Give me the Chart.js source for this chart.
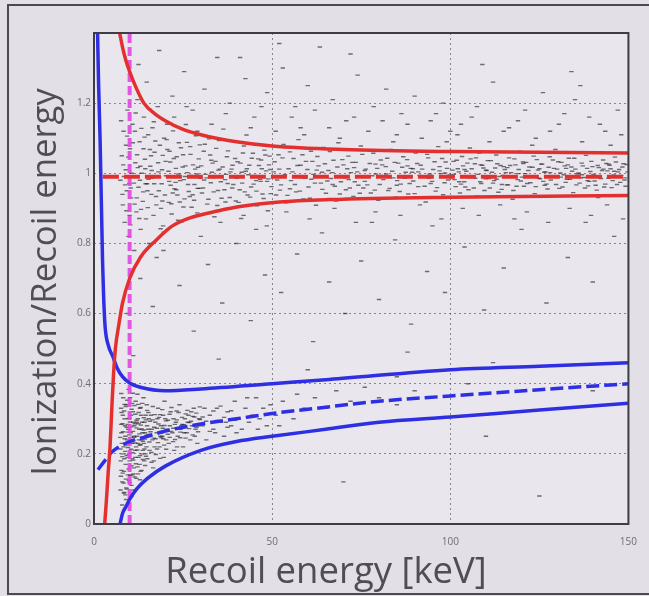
<!DOCTYPE html>
<html><head><meta charset="utf-8">
<script src="https://cdn.jsdelivr.net/npm/chart.js@4.4.0/dist/chart.umd.min.js"></script>
<style>
html,body{margin:0;padding:0;background:#e2dfe6;overflow:hidden}
#c{display:block;filter:blur(0.4px)}
</style>
</head><body>
<canvas id="c" width="649" height="596"></canvas>
<script>
// ---- axis ticks / titles ----
const xTicks = [0, 50, 100, 150];
const yTicks = [0, 0.2, 0.4, 0.6, 0.8, 1, 1.2];
const xTitle = "Recoil energy [keV]";
const yTitle = "Ionization/Recoil energy";

// ---- scatter events ----
const erLow = [[7.4,0.98],[7.8,1.05],[8.1,0.91],[8.3,1.12],[8.6,0.86],[8.9,1.01],[9.2,0.95],[9.4,1.18],[9.7,0.82],[10.1,1.07],[10.4,0.93],[10.8,1.14],[11.0,0.99],[11.3,0.78],[11.6,1.03],[11.9,0.89],[12.2,1.21],[12.5,0.96],[12.8,1.09],[13.1,0.84],[13.4,1.00],[13.7,0.92],[14.0,1.16],[14.3,1.04],[14.6,0.87],[14.9,0.97],[15.2,1.11],[15.5,0.80],[15.8,1.02],[16.1,0.94],[16.4,1.13],[16.7,0.88],[17.0,1.06],[17.3,0.99],[17.6,0.76],[17.9,1.19],[18.2,0.95],[18.5,1.08],[18.8,0.90],[19.1,1.01],[19.4,0.85],[19.7,1.10],[8.0,0.94],[9.0,1.08],[10.0,0.88],[11.5,1.12],[12.0,0.93],[13.0,1.02],[14.5,0.97],[16.0,1.05],[17.5,0.91],[19.0,0.97],[7.6,1.15],[10.6,1.00],[12.9,0.98],[15.0,0.95],[18.0,1.03],[9.9,0.97],[13.9,1.07],[16.9,0.97]];
const erLow2 = [[8.2,1.024],[8.7,0.967],[9.1,0.893],[9.6,1.046],[10.3,0.958],[10.9,1.087],[11.4,0.912],[12.1,1.053],[12.7,0.871],[13.3,1.128],[13.8,0.947],[14.4,1.013],[15.1,0.902],[15.7,1.068],[16.3,0.986],[16.8,1.147],[17.4,0.934],[18.1,1.004],[18.7,0.842],[19.3,1.051],[19.9,0.938],[20.4,1.096],[21.1,0.977],[21.7,0.913],[22.4,1.042],[23.1,0.953],[23.7,0.998],[24.4,1.073],[25.1,0.904],[25.7,1.021],[26.4,0.968],[27.1,1.054],[27.7,0.939],[28.4,1.012],[29.1,0.957],[29.7,1.081],[8.4,0.991],[9.3,1.106],[10.2,0.853],[11.2,0.972],[12.3,1.016],[13.2,0.897],[14.2,1.103],[15.3,0.983],[16.2,1.008],[17.2,1.092],[18.3,0.989],[19.2,0.921],[20.1,1.034],[21.2,1.063],[22.1,0.944],[23.2,1.047],[24.1,0.918],[25.2,0.982],[26.1,1.088],[27.2,0.994],[28.1,0.923],[29.2,1.017],[11.7,1.172],[15.6,1.183],[19.6,0.832],[23.6,0.866],[27.6,1.118]];
const erMid = [[20.2,0.993],[20.6,1.068],[21.0,0.917],[21.4,1.032],[21.8,0.884],[22.2,1.121],[22.6,0.956],[23.0,1.014],[23.4,0.938],[23.8,1.087],[24.2,0.979],[24.6,0.862],[25.0,1.053],[25.4,0.927],[25.8,1.139],[26.2,1.002],[26.6,0.948],[27.0,1.076],[27.4,0.903],[27.8,1.024],[28.2,0.968],[28.6,1.107],[29.0,0.887],[29.4,1.041],[29.8,0.986],[30.3,0.944],[30.8,1.063],[31.3,0.997],[31.8,0.912],[32.3,1.098],[32.8,0.973],[33.3,1.029],[33.8,0.876],[34.3,1.071],[34.8,0.951],[35.3,1.012],[35.8,0.929],[36.3,1.126],[36.8,0.982],[37.3,1.047],[37.8,0.898],[38.3,1.004],[38.8,0.958],[39.3,1.092],[39.8,0.921],[40.3,1.033],[40.8,0.989],[41.3,0.871],[41.8,1.058],[42.3,0.947],[42.8,1.109],[43.3,0.996],[43.8,0.932],[44.3,1.043],[44.8,0.969],[45.3,1.081],[45.8,0.907],[46.3,1.022],[46.8,0.977],[47.3,0.941],[47.8,1.066],[48.3,1.007],[48.8,0.893],[49.3,1.049],[49.8,0.962],[20.9,1.006],[22.9,0.974],[24.9,1.018],[26.9,0.934],[28.9,0.998],[30.9,0.981],[32.9,1.037],[34.9,1.009],[36.9,0.918],[38.9,1.023],[40.9,0.953],[42.9,1.013],[44.9,0.992],[46.9,1.038],[48.9,0.984],[21.5,0.966],[25.5,0.991],[29.5,0.957],[33.5,0.988],[37.5,0.971],[41.5,1.003],[45.5,0.979],[49.5,1.011]];
const erMid2 = [[30.1,1.021],[30.6,0.958],[31.1,1.083],[31.6,0.987],[32.1,0.926],[32.6,1.052],[33.1,1.003],[33.6,0.947],[34.1,1.034],[34.6,0.908],[35.1,1.093],[35.6,0.976],[36.1,1.018],[36.6,0.953],[37.1,0.997],[37.6,1.064],[38.1,0.931],[38.6,1.012],[39.1,0.968],[39.6,1.042],[40.1,0.986],[40.6,0.917],[41.1,1.029],[41.6,0.972],[42.1,1.078],[42.6,1.006],[43.1,0.938],[43.6,1.023],[44.1,0.961],[44.6,1.057],[45.1,0.994],[45.6,0.949],[46.1,1.041],[46.6,0.983],[47.1,1.013],[47.6,0.928],[48.1,1.052],[48.6,0.977],[49.1,1.024],[49.6,0.942],[50.7,1.033],[51.4,0.981],[52.2,0.952],[52.9,1.044],[53.6,0.996],[54.3,0.937],[55.0,1.061],[55.7,1.004],[56.4,0.968],[57.1,1.022],[57.8,0.949],[58.5,1.053],[59.2,0.986],[59.9,1.011],[60.6,0.929],[61.3,1.034],[62.0,0.972],[62.7,1.048],[63.4,0.991],[64.1,0.954],[64.8,1.027],[65.5,0.978],[66.2,1.062],[66.9,1.002],[67.6,0.963],[68.3,1.018],[69.0,0.941],[69.7,1.039],[70.4,0.987],[71.1,1.013],[71.8,0.958],[72.5,1.031],[73.2,0.976],[73.9,1.004],[74.6,0.943],[75.3,1.054],[76.0,1.008],[76.7,0.967],[77.4,1.028],[78.1,0.993],[78.8,0.952],[79.5,1.014]];
const erHigh = [[50.4,1.004],[51.1,0.938],[51.8,1.053],[52.5,0.967],[53.2,1.082],[53.9,0.916],[54.6,1.013],[55.3,0.979],[56.0,1.042],[56.7,0.947],[57.4,1.096],[58.1,0.988],[58.8,0.927],[59.5,1.034],[60.2,0.961],[60.9,1.063],[61.6,0.997],[62.3,0.909],[63.0,1.021],[63.7,0.972],[64.4,1.074],[65.1,0.943],[65.8,1.008],[66.5,0.985],[67.2,1.037],[67.9,0.921],[68.6,1.087],[69.3,0.976],[70.0,1.024],[70.7,0.953],[71.4,1.049],[72.1,1.002],[72.8,0.934],[73.5,1.031],[74.2,0.966],[74.9,1.078],[75.6,0.958],[76.3,1.012],[77.0,0.991],[77.7,0.944],[78.4,1.057],[79.1,0.998],[79.8,0.923],[80.5,1.038],[81.2,0.982],[81.9,1.019],[82.6,0.951],[83.3,1.068],[84.0,0.987],[84.7,0.932],[85.4,1.029],[86.1,0.969],[86.8,1.047],[87.5,1.003],[88.2,0.941],[88.9,1.014],[89.6,0.978],[90.3,1.058],[91.0,0.962],[91.7,1.023],[92.4,0.993],[93.1,0.918],[93.8,1.044],[94.5,0.971],[95.2,1.011],[95.9,0.949],[96.6,1.076],[97.3,0.999],[98.0,0.939],[98.7,1.032],[99.4,0.981],[52.0,1.012],[55.0,0.956],[58.0,1.023],[61.0,0.983],[64.0,1.003],[67.0,0.968],[70.0,0.989],[73.0,1.016],[76.0,0.977],[79.0,1.026],[82.0,0.998],[85.0,0.966],[88.0,1.021],[91.0,1.004],[94.0,0.986],[97.0,1.019],[53.5,0.992],[62.5,1.009],[71.5,0.982],[80.5,0.994],[89.5,1.013],[98.5,1.001]];
const erHigh2 = [[80.2,0.968],[80.9,1.024],[81.6,0.992],[82.3,1.043],[83.0,0.957],[83.7,1.006],[84.4,1.031],[85.1,0.979],[85.8,0.948],[86.5,1.017],[87.2,0.986],[87.9,1.039],[88.6,0.971],[89.3,1.003],[90.0,0.942],[90.7,1.028],[91.4,0.994],[92.1,1.012],[92.8,0.963],[93.5,1.054],[94.2,0.998],[94.9,0.977],[95.6,1.033],[96.3,0.959],[97.0,1.007],[97.7,1.042],[98.4,0.973],[99.1,1.014],[99.8,0.995],[100.6,1.009],[101.2,0.982],[101.8,1.037],[102.4,1.004],[103.0,0.969],[103.6,1.021],[104.2,0.961],[104.8,1.029],[105.4,0.987],[106.0,1.013],[106.6,0.958],[107.2,1.044],[107.8,0.997],[108.4,0.976],[109.0,1.023],[109.6,0.951],[110.2,1.008],[110.8,0.985],[111.4,1.036],[112.0,0.972],[112.6,1.015],[113.2,1.027],[113.8,0.991],[114.4,0.954],[115.0,1.019],[115.6,1.002],[116.2,0.967],[116.8,1.022],[117.4,0.988],[118.0,1.041],[118.6,0.963],[119.2,1.011],[119.8,0.978],[120.4,1.032],[121.0,0.999],[121.6,0.971],[122.2,1.018],[122.8,0.993],[123.4,1.049],[124.0,0.962],[124.6,1.009],[125.2,0.984],[125.8,1.026],[126.4,1.003],[127.0,0.969],[127.6,1.017],[128.2,0.981],[128.8,1.038],[129.4,0.989],[130.0,1.012],[130.6,0.957],[131.2,1.031],[131.8,0.996],[132.4,0.974],[133.0,1.024],[133.6,0.983],[134.2,1.006],[134.8,1.043],[135.4,0.967],[136.0,1.001],[136.6,0.987],[137.2,1.021],[137.8,0.958],[138.4,1.014],[139.0,0.977],[139.6,1.034],[140.2,0.997],[140.8,0.966],[141.4,1.022],[142.0,0.992],[142.6,1.008],[143.2,0.961],[143.8,1.028],[144.4,0.986],[145.0,1.013],[145.6,0.979],[146.2,1.046],[146.8,0.968],[147.4,1.011],[148.0,0.994],[148.6,1.027],[149.2,0.963],[149.8,1.004]];
const erTop = [[100.3,0.987],[100.9,1.034],[101.5,0.962],[102.1,1.013],[102.7,0.944],[103.3,1.048],[103.9,0.976],[104.5,1.006],[105.1,0.953],[105.7,1.041],[106.3,0.992],[106.9,1.027],[107.5,0.935],[108.1,1.058],[108.7,0.971],[109.3,1.015],[109.9,0.984],[110.5,1.036],[111.1,0.958],[111.7,1.003],[112.3,0.979],[112.9,1.052],[113.5,0.946],[114.1,1.022],[114.7,0.994],[115.3,1.011],[115.9,0.967],[116.5,1.044],[117.1,1.002],[117.7,0.951],[118.3,1.024],[118.9,0.982],[119.5,1.063],[120.1,0.989],[120.7,0.963],[121.3,1.031],[121.9,1.008],[122.5,0.973],[123.1,1.017],[123.7,0.942],[124.3,1.039],[124.9,0.986],[125.5,1.026],[126.1,0.977],[126.7,1.004],[127.3,0.955],[127.9,1.047],[128.5,0.991],[129.1,1.014],[129.7,0.968],[130.3,1.033],[130.9,1.001],[131.5,0.961],[132.1,1.021],[132.7,0.983],[133.3,1.043],[133.9,0.993],[134.5,0.945],[135.1,1.012],[135.7,0.998],[136.3,0.972],[136.9,1.029],[137.5,0.988],[138.1,1.051],[138.7,0.964],[139.3,1.005],[139.9,1.019],[140.5,0.978],[141.1,0.952],[141.7,1.016],[142.3,0.985],[142.9,1.038],[143.5,0.969],[144.1,1.007],[144.7,1.023],[145.3,0.959],[145.9,0.995],[146.5,1.032],[147.1,1.004],[147.7,0.974],[148.3,1.018],[148.9,0.981],[149.5,1.025],[101.0,0.997],[104.0,1.011],[107.0,0.986],[110.0,1.009],[113.0,0.983],[116.0,1.016],[119.0,0.999],[122.0,0.992],[125.0,1.013],[128.0,1.002],[131.0,0.989],[134.0,1.018],[137.0,0.996],[140.0,0.993],[143.0,1.012],[146.0,1.006],[149.0,0.987],[102.5,0.976],[108.5,1.024],[114.5,0.968],[120.5,1.028],[126.5,0.966],[132.5,1.014],[138.5,0.979],[144.5,1.026],[105.5,1.072],[117.5,0.926],[129.5,1.068],[141.5,0.931]];
const erHalo = [[22.5,1.16],[26.0,1.19],[33.0,1.14],[37.0,1.17],[44.0,1.13],[47.0,1.19],[51.0,1.12],[55.5,1.16],[59.0,1.11],[62.0,1.18],[66.0,1.13],[69.0,1.10],[73.0,1.16],[77.0,1.12],[81.0,1.15],[84.0,1.09],[88.0,1.14],[92.0,1.10],[96.0,1.17],[99.0,1.09],[102.0,1.11],[106.0,1.16],[111.0,1.09],[115.0,1.12],[119.0,1.15],[123.0,1.08],[128.0,1.12],[132.0,1.17],[137.0,1.09],[142.0,1.14],[145.0,1.08],[148.0,1.11],[35.5,0.86],[42.0,0.88],[48.5,0.85],[54.0,0.89],[60.5,0.87],[67.5,0.90],[73.5,0.86],[79.0,0.89],[86.0,0.88],[91.5,0.91],[97.5,0.87],[103.5,0.90],[108.0,0.88],[114.0,0.91],[121.5,0.89],[127.5,0.86],[133.5,0.90],[139.5,0.88],[144.0,0.91],[148.5,0.87]];
const sparseHigh = [[12.5,1.31],[14.8,1.26],[18.3,1.35],[22.0,1.22],[25.3,1.29],[27.7,1.18],[31.0,1.24],[34.6,1.33],[38.1,1.20],[42.5,1.27],[45.0,1.16],[48.6,1.23],[53.0,1.30],[56.5,1.19],[60.0,1.25],[63.4,1.36],[67.0,1.21],[70.8,1.15],[74.0,1.28],[78.5,1.19],[82.0,1.24],[86.3,1.17],[90.0,1.22],[94.5,1.15],[98.0,1.20],[103.0,1.14],[107.5,1.19],[112.0,1.26],[116.5,1.13],[121.0,1.18],[126.0,1.23],[130.5,1.14],[135.0,1.21],[139.0,1.16],[143.5,1.12],[147.0,1.18],[41.0,1.33],[52.0,1.37],[72.0,1.34],[109.0,1.31],[134.0,1.29],[136.5,1.25],[20.5,1.14],[29.0,1.12],[58.0,1.13],[85.0,1.11],[100.0,1.12],[124.0,1.10]];
const sparseMid = [[13.0,0.70],[16.5,0.62],[19.5,0.78],[24.0,0.68],[28.0,0.55],[32.0,0.74],[36.0,0.63],[40.0,0.80],[44.0,0.58],[48.0,0.71],[52.5,0.66],[57.0,0.77],[61.5,0.52],[66.0,0.69],[70.5,0.60],[75.0,0.75],[80.0,0.64],[84.5,0.81],[89.0,0.57],[93.5,0.72],[98.5,0.66],[104.0,0.79],[109.5,0.61],[115.0,0.73],[120.0,0.84],[127.0,0.63],[133.0,0.76],[140.0,0.69],[146.0,0.82],[30.0,0.82],[45.5,0.84],[64.0,0.83],[78.0,0.86],[95.0,0.85],[118.0,0.87],[138.0,0.86],[9.5,0.60],[11.0,0.48],[35.0,0.47],[60.0,0.44],[88.0,0.49],[112.0,0.46],[70.0,0.12],[95.0,0.30],[110.0,0.25],[125.0,0.08],[140.0,0.38],[85.0,0.42],[105.0,0.40]];
const nrLow = [[7.5,0.18],[7.7,0.26],[7.9,0.12],[8.1,0.31],[8.3,0.22],[8.5,0.09],[8.7,0.28],[8.9,0.17],[9.1,0.34],[9.3,0.24],[9.5,0.14],[9.7,0.30],[9.9,0.20],[10.1,0.36],[10.3,0.26],[10.5,0.11],[10.7,0.23],[10.9,0.32],[11.1,0.16],[11.3,0.28],[11.5,0.21],[11.7,0.35],[11.9,0.13],[12.1,0.25],[12.3,0.30],[12.5,0.19],[12.7,0.27],[12.9,0.33],[13.1,0.15],[13.3,0.24],[13.5,0.29],[13.7,0.21],[13.9,0.36],[14.1,0.18],[14.3,0.26],[14.5,0.31],[14.7,0.22],[14.9,0.28],[7.6,0.33],[8.0,0.20],[8.4,0.15],[8.8,0.25],[9.2,0.10],[9.6,0.27],[10.0,0.18],[10.4,0.31],[10.8,0.14],[11.2,0.25],[11.6,0.19],[12.0,0.29],[12.4,0.23],[12.8,0.17],[13.2,0.31],[13.6,0.26],[14.0,0.23],[14.4,0.20],[14.8,0.34],[7.8,0.23],[8.6,0.30],[9.4,0.19],[10.2,0.23],[11.0,0.29],[11.8,0.22],[12.6,0.24],[13.4,0.20],[14.2,0.29],[9.0,0.07],[10.6,0.08],[8.2,0.36],[12.2,0.37]];
const nrLow2 = [[7.4,0.214],[7.7,0.153],[8.0,0.286],[8.3,0.117],[8.6,0.243],[8.9,0.335],[9.2,0.196],[9.5,0.262],[9.8,0.124],[10.1,0.291],[10.4,0.213],[10.7,0.344],[11.0,0.182],[11.3,0.247],[11.6,0.313],[11.9,0.274],[12.2,0.163],[12.5,0.286],[12.8,0.225],[13.1,0.332],[13.4,0.271],[13.7,0.184],[14.0,0.303],[14.3,0.242],[14.6,0.193],[14.9,0.324],[15.3,0.255],[15.7,0.293],[16.1,0.204],[16.5,0.335],[16.9,0.276],[17.3,0.243],[17.7,0.214],[18.1,0.285],[18.5,0.312],[18.9,0.246],[19.3,0.273],[19.7,0.225],[20.2,0.294],[20.7,0.256],[21.2,0.313],[21.7,0.264],[22.2,0.235],[22.7,0.284],[23.2,0.322],[23.7,0.273],[24.2,0.246],[24.7,0.304],[25.2,0.283],[25.7,0.245],[26.2,0.324],[26.7,0.272],[27.2,0.293],[27.7,0.254],[28.2,0.305],[28.7,0.316],[29.2,0.263],[29.7,0.334],[30.5,0.305],[31.5,0.293],[32.5,0.264],[33.5,0.322],[34.5,0.295],[35.5,0.336],[36.5,0.304],[37.5,0.276],[38.5,0.323],[39.5,0.296],[7.9,0.054],[8.8,0.083],[9.7,0.384],[10.9,0.373],[8.5,0.186],[9.0,0.225],[9.9,0.254],[10.8,0.203],[11.4,0.134],[12.9,0.126],[13.8,0.245],[7.6,0.284],[10.5,0.166]];
const nrLow3 = [[7.35,0.247],[7.55,0.136],[7.75,0.318],[7.95,0.192],[8.15,0.263],[8.35,0.088],[8.55,0.341],[8.75,0.207],[8.95,0.128],[9.15,0.276],[9.35,0.353],[9.55,0.218],[9.75,0.157],[9.95,0.302],[10.15,0.139],[10.35,0.247],[10.55,0.327],[10.75,0.186],[10.95,0.264],[11.15,0.097],[11.35,0.338],[11.55,0.231],[11.75,0.172],[11.95,0.296],[12.15,0.211],[12.35,0.143],[12.55,0.318],[12.75,0.257],[12.95,0.195],[13.15,0.282],[13.35,0.153],[13.55,0.344],[13.75,0.236],[13.95,0.268],[14.15,0.214],[14.35,0.167],[14.55,0.297],[14.75,0.253],[14.95,0.186],[15.25,0.318],[15.55,0.234],[15.85,0.263],[16.15,0.176],[16.45,0.297],[16.75,0.245],[17.05,0.312],[17.35,0.198],[17.65,0.273],[17.95,0.232],[18.25,0.304],[18.55,0.187],[18.85,0.259],[19.15,0.326],[19.45,0.243],[19.75,0.281],[20.25,0.213],[20.75,0.296],[21.25,0.247],[21.75,0.332],[22.25,0.273],[22.75,0.241],[23.25,0.297],[23.75,0.318],[24.25,0.262],[24.75,0.284],[25.75,0.314],[26.75,0.289],[27.75,0.307],[28.75,0.276],[29.75,0.298],[8.05,0.145],[9.05,0.103],[10.05,0.118],[11.05,0.143],[8.45,0.322],[9.45,0.284],[10.45,0.277],[11.45,0.286],[12.45,0.341],[13.05,0.226],[7.45,0.097],[7.65,0.372]];
const nrHigh = [[15.2,0.27],[15.6,0.21],[16.0,0.31],[16.4,0.24],[16.8,0.18],[17.2,0.29],[17.6,0.26],[18.0,0.33],[18.4,0.22],[18.8,0.28],[19.2,0.25],[19.6,0.19],[20.0,0.30],[20.5,0.27],[21.0,0.23],[21.5,0.32],[22.0,0.26],[22.5,0.21],[23.0,0.29],[23.5,0.25],[24.0,0.34],[24.5,0.28],[25.0,0.22],[25.5,0.30],[26.0,0.26],[26.5,0.31],[27.0,0.24],[27.5,0.28],[28.0,0.33],[28.5,0.27],[29.0,0.23],[29.5,0.30],[15.4,0.30],[16.2,0.27],[17.0,0.22],[17.8,0.30],[18.6,0.25],[19.4,0.31],[20.3,0.24],[21.3,0.28],[22.3,0.30],[23.3,0.22],[24.3,0.27],[25.3,0.26],[26.3,0.29],[27.3,0.32],[28.3,0.25],[29.3,0.28],[16.6,0.16],[19.8,0.35],[22.8,0.18],[26.8,0.20],[30.5,0.28],[31.5,0.24],[32.5,0.31],[33.5,0.27],[34.5,0.33],[35.5,0.29],[36.5,0.25],[37.5,0.32],[38.5,0.28],[39.5,0.35],[40.5,0.30],[41.5,0.27],[42.5,0.33],[43.5,0.29],[44.5,0.31],[45.5,0.36],[46.5,0.30],[47.5,0.33],[48.5,0.28],[49.5,0.34],[51,0.31],[53,0.35],[55,0.32],[57,0.37],[59,0.33],[31,0.33],[34,0.26],[37,0.29],[40,0.26],[43,0.36],[46,0.27],[52,0.28],[56,0.30],[62,0.36],[65,0.33],[68,0.38],[72,0.35],[76,0.39],[80,0.36],[85,0.34],[90,0.38]];

// ---- band curves ----
const erMean = [[2.5,0.99],[150,0.99]];
const erUpper = [[7.2,1.40],[8,1.36],[9,1.32],[10,1.29],[12,1.24],[14,1.20],[17,1.17],[20,1.15],[25,1.125],[30,1.11],[40,1.09],[50,1.078],[70,1.068],[100,1.062],[150,1.058]];
const erLower = [[3,0],[3.5,0.07],[4,0.15],[4.5,0.22],[5,0.33],[5.5,0.43],[6,0.50],[7,0.57],[8,0.63],[10,0.70],[13,0.76],[17.5,0.81],[22,0.85],[27,0.873],[35,0.893],[41,0.905],[52,0.918],[66,0.925],[100,0.932],[150,0.937]];
const nrMean = [[1.1,0.155],[3,0.18],[5,0.205],[7,0.22],[10,0.235],[15,0.25],[20,0.265],[30,0.285],[40,0.30],[50,0.315],[65,0.333],[80,0.35],[100,0.365],[125,0.383],[150,0.40]];
const nrUpper = [[1.0,1.40],[1.3,1.25],[1.7,1.10],[2.0,0.95],[2.2,0.85],[2.4,0.75],[2.7,0.65],[3.1,0.565],[4,0.51],[5.3,0.477],[6.5,0.445],[8,0.42],[10,0.402],[13,0.39],[20,0.38],[30,0.385],[50,0.40],[66,0.412],[100,0.44],[125,0.45],[150,0.46]];
const nrLower = [[7.3,0],[8,0.03],[9,0.05],[10,0.07],[12,0.10],[15,0.13],[20,0.165],[30,0.21],[40,0.235],[50,0.25],[65,0.27],[80,0.29],[100,0.305],[125,0.325],[150,0.344]];
const threshold = [[10,0],[10,1.4]];

const toXY = a => a.map(p => ({x:p[0], y:p[1]}));

const RED = '#e3302e', BLUE = '#2e2ee3', MAG = 'rgba(226,70,226,0.9)';
const dotStyle = {showLine:false, pointStyle:'line', pointRadius:2.2, pointBorderWidth:1.4,
  borderColor:'rgba(25,25,30,0.6)', backgroundColor:'rgba(25,25,30,0.6)', order:20};
const curve = (data, color, dash, w) => ({data:toXY(data), showLine:true, borderColor:color,
  borderWidth:w||3.5, borderDash:dash||[], pointRadius:0, fill:false,
  cubicInterpolationMode:'monotone', order:1});

const scatterSets = [erLow, erLow2, erMid, erMid2, erHigh, erHigh2, erTop, erHalo, sparseHigh, sparseMid, nrLow, nrLow2, nrLow3, nrHigh]
  .map(d => Object.assign({data:toXY(d)}, dotStyle));

const framePlugin = {
  id:'frame',
  beforeDraw(chart){
    const {ctx, chartArea:a, width, height} = chart;
    ctx.save();
    ctx.fillStyle = '#e2dfe6'; ctx.fillRect(0,0,width,height);
    ctx.strokeStyle = '#4b4a52'; ctx.lineWidth = 2;
    ctx.strokeRect(8,5,width+20,589);
    ctx.fillStyle = '#e9e6ed'; ctx.fillRect(a.left,a.top,a.right-a.left,a.bottom-a.top);
    ctx.restore();
  },
  afterDraw(chart){
    const {ctx, chartArea:a} = chart;
    ctx.save();
    ctx.strokeStyle = '#3e3d45'; ctx.lineWidth = 2;
    ctx.strokeRect(a.left,a.top,a.right-a.left,a.bottom-a.top);
    ctx.fillStyle = '#4f4e55';
    ctx.textAlign = 'center'; ctx.textBaseline = 'middle';
    const fit = (t, target) => { ctx.font = '30px "Open Sans"'; const w = ctx.measureText(t).width; return 30*target/w; };
    const sx = fit(xTitle, 322);
    ctx.font = sx.toFixed(1)+'px "Open Sans"';
    ctx.fillText(xTitle, 326, 573);
    const sy = fit(yTitle, 388);
    ctx.font = sy.toFixed(1)+'px "Open Sans"';
    ctx.translate(46, 282); ctx.rotate(-Math.PI/2);
    ctx.fillText(yTitle, 0, 0);
    ctx.restore();
  }
};

new Chart(document.getElementById('c'), {
  type:'scatter',
  data:{datasets:[
    ...scatterSets,
    curve(erUpper, RED), curve(erLower, RED), curve(erMean, RED, [16,5], 4),
    curve(nrUpper, BLUE), curve(nrLower, BLUE), curve(nrMean, BLUE, [13,5], 3.5),
    Object.assign(curve(threshold, MAG, [9,4], 4), {cubicInterpolationMode:'default', tension:0})
  ]},
  options:{
    responsive:false, animation:false, devicePixelRatio:1,
    layout:{padding:{left:0, right:17, top:33, bottom:0}},
    plugins:{legend:{display:false}, tooltip:{enabled:false}},
    scales:{
      x:{type:'linear', min:0, max:150,
        afterBuildTicks: s => { s.ticks = xTicks.map(v => ({value:v})); },
        afterFit: s => { s.height = 72; },
        grid:{color:'rgba(70,70,75,0.6)', lineWidth:1, drawTicks:false},
        border:{display:false, dash:[2,3]},
        ticks:{padding:12, color:'#6d6c73', font:{family:'"Open Sans"', size:10}, maxRotation:0}
      },
      y:{type:'linear', min:0, max:1.4,
        afterBuildTicks: s => { s.ticks = yTicks.map(v => ({value:v})); },
        afterFit: s => { s.width = 94; },
        grid:{color:'rgba(70,70,75,0.6)', lineWidth:1, drawTicks:false},
        border:{display:false, dash:[2,3]},
        ticks:{padding:3, color:'#6d6c73', font:{family:'"Open Sans"', size:10},
          callback: v => String(Math.round(v*10)/10)}
      }
    }
  },
  plugins:[framePlugin]
});
</script>
</body></html>
